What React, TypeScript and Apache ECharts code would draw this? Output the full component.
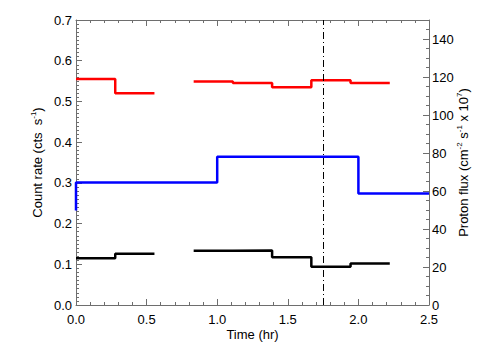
import React, { useEffect, useRef } from "react";
import * as echarts from "echarts";

// Bin edges (hr) for the count-rate histograms (1000 s bins)
const rateEdges = [0, 0.2778, 0.5556, 0.8333, 1.1111, 1.3889, 1.6667, 1.9444, 2.2222];
// Count rates (cts s^-1); null = no data
const redRate: (number | null)[] = [0.555, 0.52, null, 0.549, 0.545, 0.535, 0.552, 0.545];
const blackRate: (number | null)[] = [0.115, 0.126, null, 0.133, 0.134, 0.117, 0.094, 0.102];
// Proton flux (cm^-2 s^-1 x 10^7)
const fluxEdges = [0, 1.0, 2.0, 2.5];
const fluxValues = [64.5, 78.0, 58.7];
const fluxStart = 49.7;
// Marker time (hr)
const markerTime = 1.75;

const xTicks = { min: 0, max: 2.5, interval: 0.5 };
const leftTicks = { min: 0, max: 0.7, interval: 0.1 };
const rightTicks = { min: 0, max: 150, interval: 20 };

function histPoints(edges: number[], vals: (number | null)[], start?: number) {
  const pts: any[] = [];
  if (start !== undefined) pts.push([edges[0], start]);
  vals.forEach((v, i) => {
    if (v === null) {
      pts.push([edges[i], "-"]);
    } else {
      pts.push([edges[i], v]);
      pts.push([edges[i + 1], v]);
    }
  });
  return pts;
}

const FONT = "Liberation Sans";
const AXIS_COLOR = "#6e6e6e";

export default function App() {
  const ref = useRef<HTMLDivElement>(null);
  useEffect(() => {
    if (!ref.current) return;
    const chart = echarts.init(ref.current, null, { renderer: "svg" });
    const axisCommon = {
      axisLine: { show: true, onZero: false, lineStyle: { color: AXIS_COLOR, width: 1 } },
      axisTick: { show: true, inside: true, length: 6, lineStyle: { color: AXIS_COLOR } },
      minorTick: { show: true, length: 3, lineStyle: { color: AXIS_COLOR } },
      splitLine: { show: false },
      minorSplitLine: { show: false },
    };
    const rich = {
      a: { fontFamily: FONT, fontSize: 13, color: "#000", lineHeight: 16 },
      s: { fontFamily: FONT, fontSize: 8, color: "#000", verticalAlign: "top", lineHeight: 8 },
    };
    chart.setOption({
      animation: false,
      backgroundColor: "#fff",
      grid: { left: 76, right: 75, top: 20, bottom: 55, containLabel: false },
      xAxis: [
        {
          type: "value",
          position: "bottom",
          ...xTicks,
          ...axisCommon,
          minorTick: { ...axisCommon.minorTick, splitNumber: 5 },
          axisLabel: {
            fontFamily: FONT,
            fontSize: 13,
            color: "#000",
            margin: 8,
            formatter: (v: number) => v.toFixed(1),
          },
          name: "Time (hr)",
          nameLocation: "middle",
          nameGap: 23,
          nameMoveOverlap: false,
          nameTextStyle: { fontFamily: FONT, fontSize: 13, color: "#000" },
        },
        {
          type: "value",
          position: "top",
          ...xTicks,
          ...axisCommon,
          minorTick: { ...axisCommon.minorTick, splitNumber: 5 },
          axisLabel: { show: false },
        },
      ],
      yAxis: [
        {
          type: "value",
          position: "left",
          ...leftTicks,
          ...axisCommon,
          minorTick: { ...axisCommon.minorTick, splitNumber: 10 },
          axisLabel: {
            fontFamily: FONT,
            fontSize: 13,
            color: "#000",
            margin: 4,
            formatter: (v: number) => v.toFixed(1),
          },
          name: "{a|Count rate (cts  s}{s|-1}{a|)}",
          nameLocation: "middle",
          nameRotate: 90,
          nameGap: 31,
          nameMoveOverlap: false,
          nameTextStyle: { rich },
        },
        {
          type: "value",
          position: "right",
          ...rightTicks,
          ...axisCommon,
          minorTick: { ...axisCommon.minorTick, splitNumber: 4 },
          axisLabel: {
            fontFamily: FONT,
            fontSize: 13,
            color: "#000",
            margin: 3,
            formatter: (v: number) => (v % 20 === 0 ? String(v) : ""),
          },
          name: "{a|Proton flux (cm}{s|-2}{a| s}{s|-1}{a| x 10}{s|7}{a|)}",
          nameLocation: "middle",
          nameRotate: 90,
          nameGap: 26,
          nameMoveOverlap: false,
          nameTextStyle: { rich },
        },
      ],
      series: [
        {
          type: "line",
          name: "red",
          xAxisIndex: 0,
          yAxisIndex: 0,
          data: histPoints(rateEdges, redRate),
          showSymbol: false,
          symbol: "none",
          connectNulls: false,
          lineStyle: { color: "#ff0000", width: 2.5 },
        },
        {
          type: "line",
          name: "black",
          xAxisIndex: 0,
          yAxisIndex: 0,
          data: histPoints(rateEdges, blackRate),
          showSymbol: false,
          symbol: "none",
          connectNulls: false,
          lineStyle: { color: "#000000", width: 2.5 },
          markLine: {
            silent: true,
            symbol: "none",
            label: { show: false },
            lineStyle: { color: "#000", width: 1, type: [7, 3, 1, 3] },
            data: [{ xAxis: markerTime }],
          },
        },
        {
          type: "line",
          name: "blue",
          xAxisIndex: 0,
          yAxisIndex: 1,
          data: histPoints(fluxEdges, fluxValues, fluxStart),
          showSymbol: false,
          symbol: "none",
          lineStyle: { color: "#0000ff", width: 2.5 },
        },
      ],
    });
    return () => chart.dispose();
  }, []);
  return (
    <div
      ref={ref}
      style={{ position: "fixed", left: 0, top: 0, width: 504, height: 360, background: "#fff" }}
    />
  );
}
